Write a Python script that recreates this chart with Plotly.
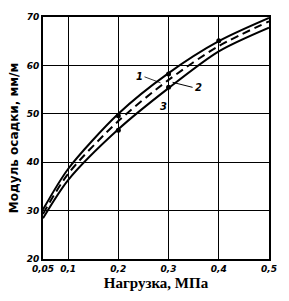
import plotly.graph_objects as go

load = [0.05, 0.1, 0.2, 0.3, 0.4, 0.5]
curve1 = [30.2, 38.6, 50.0, 58.4, 65.0, 69.8]
curve2 = [29.3, 37.6, 48.5, 57.0, 64.0, 69.1]
curve3 = [28.4, 36.3, 46.8, 55.3, 62.9, 67.8]

pt_x = [0.2, 0.2, 0.3, 0.3, 0.4]
pt_y = [49.6, 46.6, 58.2, 55.5, 65.1]

x_ticks = [0.05, 0.1, 0.2, 0.3, 0.4, 0.5]
x_labels = ["0,05", "0,1", "0,2", "0,3", "0,4", "0,5"]
y_ticks = [20, 30, 40, 50, 60, 70]
y_labels = ["20", "30", "40", "50", "60", "70"]

fig = go.Figure()
fig.add_trace(go.Scatter(x=load, y=curve1, mode="lines", line=dict(color="black", width=2, shape="spline", smoothing=0.8)))
fig.add_trace(go.Scatter(x=load, y=curve2, mode="lines", line=dict(color="black", width=2, shape="spline", smoothing=0.8, dash="8px,5px")))
fig.add_trace(go.Scatter(x=load, y=curve3, mode="lines", line=dict(color="black", width=2, shape="spline", smoothing=0.8)))
fig.add_trace(go.Scatter(x=pt_x, y=pt_y, mode="markers", marker=dict(color="black", size=5)))

tickfont = dict(family="DejaVu Sans", size=9, color="black", style="italic", weight="bold")

fig.update_xaxes(range=[0.05, 0.5], tickvals=x_ticks, ticktext=x_labels, showgrid=True,
                 gridcolor="black", gridwidth=1.3, zeroline=False, showline=True, linecolor="black",
                 linewidth=2, mirror=True, ticks="", tickfont=tickfont,
                 title=dict(text="Нагрузка, МПа", font=dict(family="Liberation Serif", size=15, color="black", weight="bold"), standoff=5))
fig.update_yaxes(range=[20, 70], tickvals=y_ticks, ticktext=y_labels, showgrid=True,
                 gridcolor="black", gridwidth=1.3, zeroline=False, showline=True, linecolor="black",
                 linewidth=2, mirror=True, ticks="", tickfont=tickfont,
                 title=dict(text="Модуль осадки, мм/м", font=dict(family="DejaVu Sans", size=12, color="black", weight="bold"), standoff=4))

ann_font = dict(family="DejaVu Sans", size=10, color="black", style="italic", weight="bold")
fig.add_annotation(x=0.284, y=56.4, ax=-16, ay=-6, text="1", showarrow=True, arrowhead=0,
                   arrowwidth=0.8, arrowcolor="black", font=ann_font, xanchor="right")
fig.add_annotation(x=0.308, y=56.5, ax=20, ay=5, text="2", showarrow=True, arrowhead=0,
                   arrowwidth=1, arrowcolor="black", font=ann_font, xanchor="left")
fig.add_annotation(x=0.289, y=51.6, text="3", showarrow=False, font=ann_font)

fig.update_layout(width=289, height=301, margin=dict(l=43, r=15, t=13, b=40),
                  plot_bgcolor="white", paper_bgcolor="white", showlegend=False)

fig.write_html("out.html")
